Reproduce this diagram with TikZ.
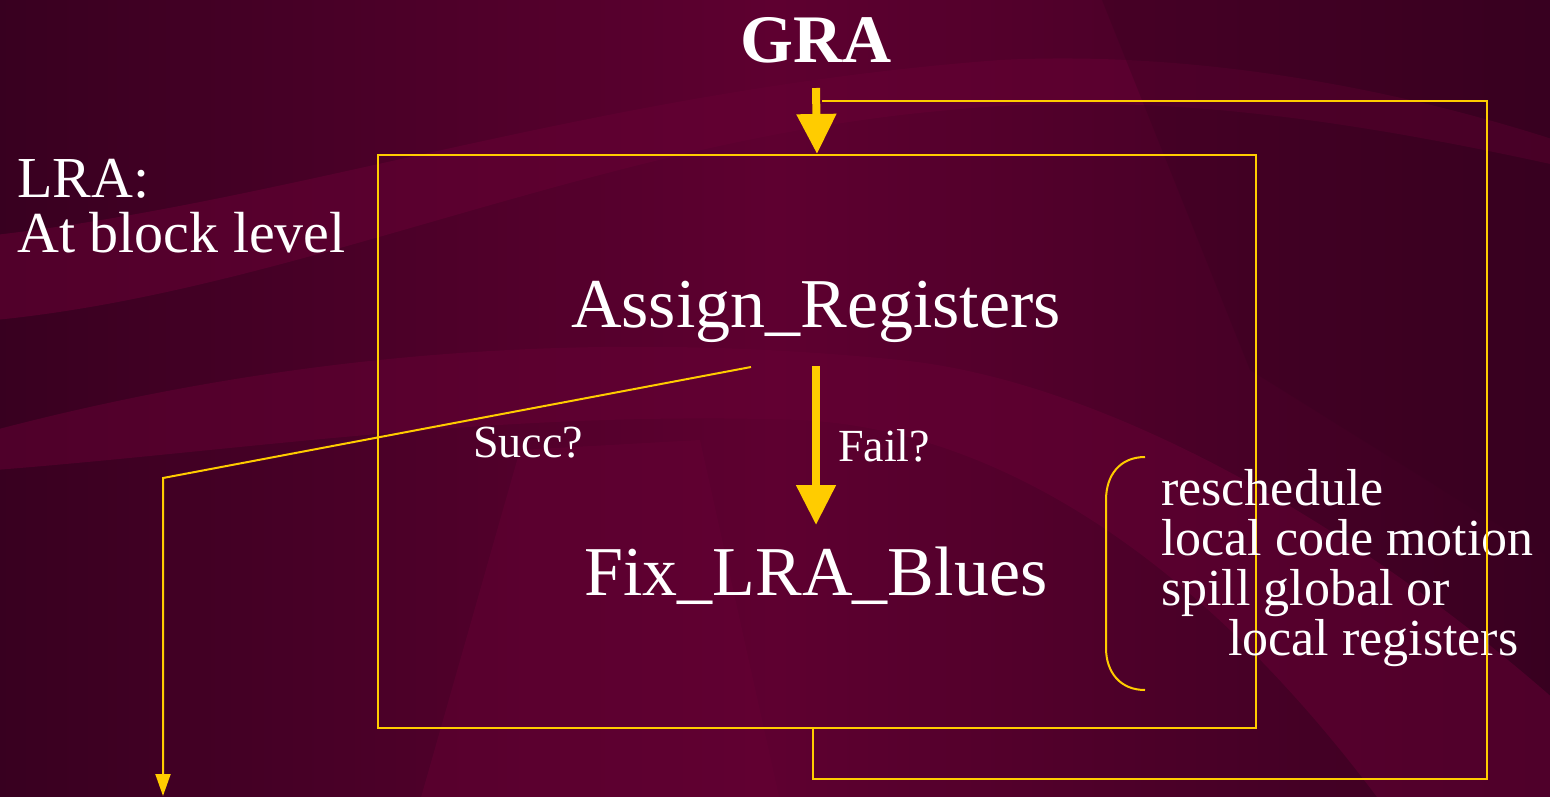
\documentclass[tikz,border=0pt]{standalone}
\usepackage{fontspec}
\setmainfont{Liberation Serif}
\usetikzlibrary{arrows.meta}
\definecolor{bgmid}{HTML}{5E0030}
\definecolor{bgdark}{HTML}{380020}
\definecolor{bglight}{HTML}{660034}
\definecolor{flow}{HTML}{FFCC00}
\tikzset{
  flowline/.style={draw=flow, line width=2pt},
  bigarrow/.style={draw=flow, line width=8pt, -{Triangle[width=38pt,length=40pt]}},
  thinarrow/.style={flowline, -{Triangle[width=15pt,length=22pt]}},
  label/.style={text=white, inner sep=0pt},
}
\begin{document}
\begin{tikzpicture}[x=1pt,y=-1pt]
  \useasboundingbox (0,0) rectangle (1550,796);
  % backdrop
  \shade[left color=bgdark, right color=bgdark, middle color=bgmid] (-5,-5) rectangle (1555,801);
  % soft swooshes
  \fill[bglight, opacity=0.55] (-5,235) .. controls (300,200) and (600,90) .. (1000,60)
    .. controls (1200,50) and (1400,90) .. (1555,140) -- (1555,165)
    .. controls (1350,120) and (1150,90) .. (950,110)
    .. controls (600,140) and (300,290) .. (-5,320) -- cycle;
  \fill[bglight, opacity=0.5] (-5,430) .. controls (300,350) and (600,330) .. (900,360)
    .. controls (1100,380) and (1350,520) .. (1555,700) -- (1555,801) -- (1380,801)
    .. controls (1200,560) and (1000,430) .. (800,420)
    .. controls (500,410) and (250,450) .. (-5,470) -- cycle;
  \fill[bgdark, opacity=0.35] (1100,-5) -- (1555,-5) -- (1555,560) -- (1250,370) -- cycle;
  \fill[bglight, opacity=0.45] (420,801) -- (520,450) -- (700,440) -- (780,801) -- cycle;

  % text
  \node[label, anchor=base, font=\bfseries\fontsize{68}{70}\selectfont] (gra) at (816,62) {GRA};
  \node[label, anchor=base west, align=left, font=\fontsize{58}{55}\selectfont] (lra) at (17,252)
    {LRA:\\At block level};
  \node[draw=flow, line width=2pt, minimum width=878pt, minimum height=573pt, inner sep=0pt,
    anchor=north west] (box) at (377,154) {};
  \node[label, anchor=base, font=\fontsize{70}{72}\selectfont] (assign) at (816,327) {Assign\_Registers};
  \node[label, anchor=base, font=\fontsize{70}{72}\selectfont] (fix) at (816,595) {Fix\_LRA\_Blues};
  \node[label, anchor=base, font=\fontsize{46}{48}\selectfont] (succ) at (528,457) {Succ?};
  \node[label, anchor=base, font=\fontsize{46}{48}\selectfont] (fail) at (884,461) {Fail?};
  \node[label, anchor=base west, align=left, font=\fontsize{52}{50}\selectfont] (fixes) at (1161,655)
    {reschedule\\local code motion\\spill global or\\\hspace*{67pt}local registers};

  % connectors
  \coordinate (graTop) at (816,88);
  \coordinate (graJoin) at (822,101);
  \coordinate (assignOut) at (816,366);
  \coordinate (fixIn) at (816,525);
  \coordinate (succOut) at (751,367);
  \coordinate (succBend) at (163,478);
  \coordinate (exitDown) at (163,796);
  \coordinate (loopDown) at (813,779);
  \coordinate (loopRight) at (1487,101);

  \draw[bigarrow] (graTop) -- (box.north);
  \draw[bigarrow] (assignOut) -- (fixIn);
  \draw[flowline] (box.south -| loopDown) -- (loopDown) -| (loopRight) -- (graJoin);
  \draw[thinarrow] (succOut) -- (succBend) -- (exitDown);

  % bracket round the remedies
  \coordinate (brTop) at (1145,457);
  \coordinate (brBot) at (1145,690);
  \draw[flowline] (brTop) .. controls (1120,457) and (1106,475) .. (1106,500)
    -- (1106,648) .. controls (1106,672) and (1120,690) .. (brBot);
\end{tikzpicture}
\end{document}
